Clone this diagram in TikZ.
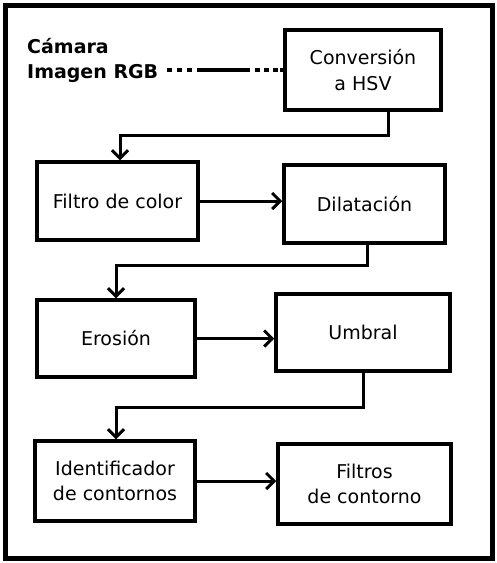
\documentclass[tikz,border=0pt]{standalone}
\usepackage{fontspec}
\setmainfont{DejaVu Sans}
\usetikzlibrary{arrows.meta}
\begin{document}
\begin{tikzpicture}[x=1pt,y=-1pt,
  box/.style={draw,line width=3.5pt,rectangle,inner sep=0pt,align=center,
    font=\fontsize{19}{25.5}\selectfont},
  arr/.style={line width=3pt,-{Straight Barb[length=8pt,width=16pt,line width=3pt]}},
  camdash/.style={line width=4pt,dash pattern=on 5pt off 5pt on 5pt off 5pt on 5pt off 5pt on 53pt off 5pt on 5pt off 4pt on 5pt off 4pt on 5pt off 2pt}
]
\useasboundingbox (0,0) rectangle (496,563);
\draw[line width=5pt] (5.5,5.5) rectangle (492,558);

\node[box,minimum width=156pt,minimum height=80pt] (conv) at (363,70) {Conversión\\a HSV};
\node[box,minimum width=161pt,minimum height=78pt] (filtro) at (117.5,201) {Filtro de color};
\node[box,minimum width=161pt,minimum height=78pt] (dila) at (364.5,204) {Dilatación};
\node[box,minimum width=158pt,minimum height=77pt] (eros) at (116,338.5) {Erosión};
\node[box,minimum width=174pt,minimum height=77pt] (umb) at (363,332.5) {Umbral};
\node[box,minimum width=160pt,minimum height=80pt] (ident) at (115,481) {Identificador\\de contornos};
\node[box,minimum width=173pt,minimum height=80pt] (filt2) at (364.5,484) {Filtros\\de contorno};

\node[anchor=north west,inner sep=0pt,align=left,font=\fontsize{19}{25}\selectfont\bfseries] (cam) at (27,38) {Cámara\\Imagen RGB};

\draw[camdash] (conv.west -| 167,0) -- (conv.west);

\coordinate (k1) at (120,135);
\coordinate (k2) at (116,265);
\coordinate (k3) at (116,407);
\draw[arr] ([xshift=25pt]conv.south) |- (k1) -- (k1 |- filtro.north);
\draw[arr] (filtro.east) -- (filtro.east -| dila.west);
\draw[arr] ([xshift=2.5pt]dila.south) |- (k2) -- (k2 |- eros.north);
\draw[arr] (eros.east) -- (eros.east -| umb.west);
\draw[arr] (umb.south) |- (k3) -- (k3 |- ident.north);
\draw[arr] (ident.east) -- (ident.east -| filt2.west);
\end{tikzpicture}
\end{document}
